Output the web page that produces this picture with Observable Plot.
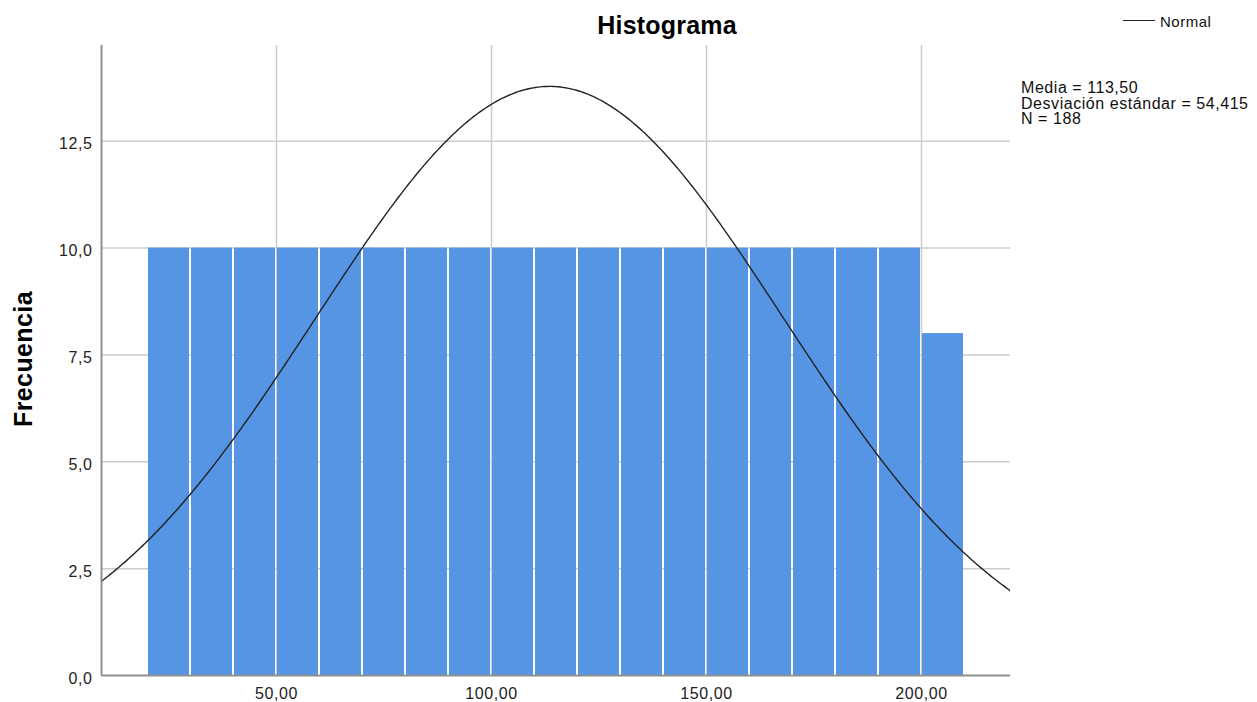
<!DOCTYPE html>
<html><head><meta charset="utf-8">
<script src="https://cdn.jsdelivr.net/npm/d3@7"></script>
<script src="https://cdn.jsdelivr.net/npm/@observablehq/plot@0.6"></script>
<style>
body{margin:0;background:#fff;font-family:Arial,"Liberation Sans",sans-serif;}
#wrap{position:relative;width:1257px;height:702px;}
.abs{position:absolute;white-space:nowrap;color:#000;line-height:1;}
#chart svg text{letter-spacing:0.6px;}
</style></head><body>
<div id="wrap">
<div id="chart"></div>
<div class="abs" style="left:667px;top:13px;font-size:25px;font-weight:bold;transform:translateX(-50%);letter-spacing:0.2px;">Histograma</div>
<div class="abs" style="left:23px;top:359px;font-size:25px;font-weight:bold;transform:translate(-50%,-50%) rotate(-90deg);letter-spacing:0.4px;">Frecuencia</div>
<div class="abs" style="left:1123px;top:20px;width:32px;height:0;border-top:1.4px solid #222;"></div>
<div class="abs" style="left:1160px;top:14px;font-size:15px;letter-spacing:0.5px;color:#111;">Normal</div>
<div class="abs" id="stats" style="left:1021px;top:80px;font-size:16px;line-height:15.5px;letter-spacing:0.55px;color:#111;"></div>
</div>
<script>
// Data
const binStart = [20,30,40,50,60,70,80,90,100,110,120,130,140,150,160,170,180,190,200];
const binEnd   = [30,40,50,60,70,80,90,100,110,120,130,140,150,160,170,180,190,200,210];
const counts   = [10,10,10,10,10,10,10,10,10,10,10,10,10,10,10,10,10,10,8];
const xTicks = [50,100,150,200];
const yTicks = [0,2.5,5,7.5,10,12.5];
const mean = 113.50, sd = 54.415, n = 188, binWidth = 10;
const xDomain = [9.3, 220.7];
const yDomain = [0, 14.74];

document.getElementById("stats").innerHTML =
  `Media = ${mean.toFixed(2).replace(".", ",")}<br>Desviación estándar = ${sd.toFixed(3).replace(".", ",")}<br>N = ${n}`;

const bars = binStart.map((s,i)=>({x1:s,x2:binEnd[i],y:counts[i]}));
// fitted normal curve from the stated parameters (Media, Desviación estándar, N)
const curve = d3.range(0, 401).map(i => {
  const x = xDomain[0] + (xDomain[1]-xDomain[0])*i/400;
  const z = (x-mean)/sd;
  return {x, y: n*binWidth/(sd*Math.sqrt(2*Math.PI))*Math.exp(-0.5*z*z)};
});

const fx = d=>d.toFixed(2).replace(".",",");
const fy = d=>d.toFixed(1).replace(".",",");

const chart = Plot.plot({
  width:1257, height:702,
  marginLeft:101, marginRight:247, marginTop:45, marginBottom:27,
  style:{fontFamily:'Arial,"Liberation Sans",sans-serif', fontSize:"16px", color:"#222", background:"#fff"},
  x:{domain:xDomain},
  y:{domain:yDomain},
  marks:[
    Plot.gridX(xTicks,{stroke:"#cccccc", strokeOpacity:1, strokeWidth:1.5}),
    Plot.gridY(yTicks.filter(d=>d>0),{stroke:"#cccccc", strokeOpacity:1, strokeWidth:1.5}),
    Plot.rectY(bars,{x1:"x1",x2:"x2",y:"y",fill:"#5595e4",insetLeft:1,insetRight:1}),
    Plot.line(curve,{x:"x",y:"y",stroke:"#222",strokeWidth:1.4,clip:true}),
    Plot.ruleX([xDomain[0]],{stroke:"#8f8f8f",strokeWidth:2}),
    Plot.ruleY([0],{stroke:"#8f8f8f",strokeWidth:2}),
    Plot.axisX(xTicks,{tickSize:0,tickPadding:12,label:null,fontSize:16,tickFormat:fx}),
    Plot.axisY(yTicks,{tickSize:0,tickPadding:9,label:null,fontSize:16,tickFormat:fy,dy:3})
  ]
});
document.getElementById("chart").appendChild(chart);
</script>
</body></html>
